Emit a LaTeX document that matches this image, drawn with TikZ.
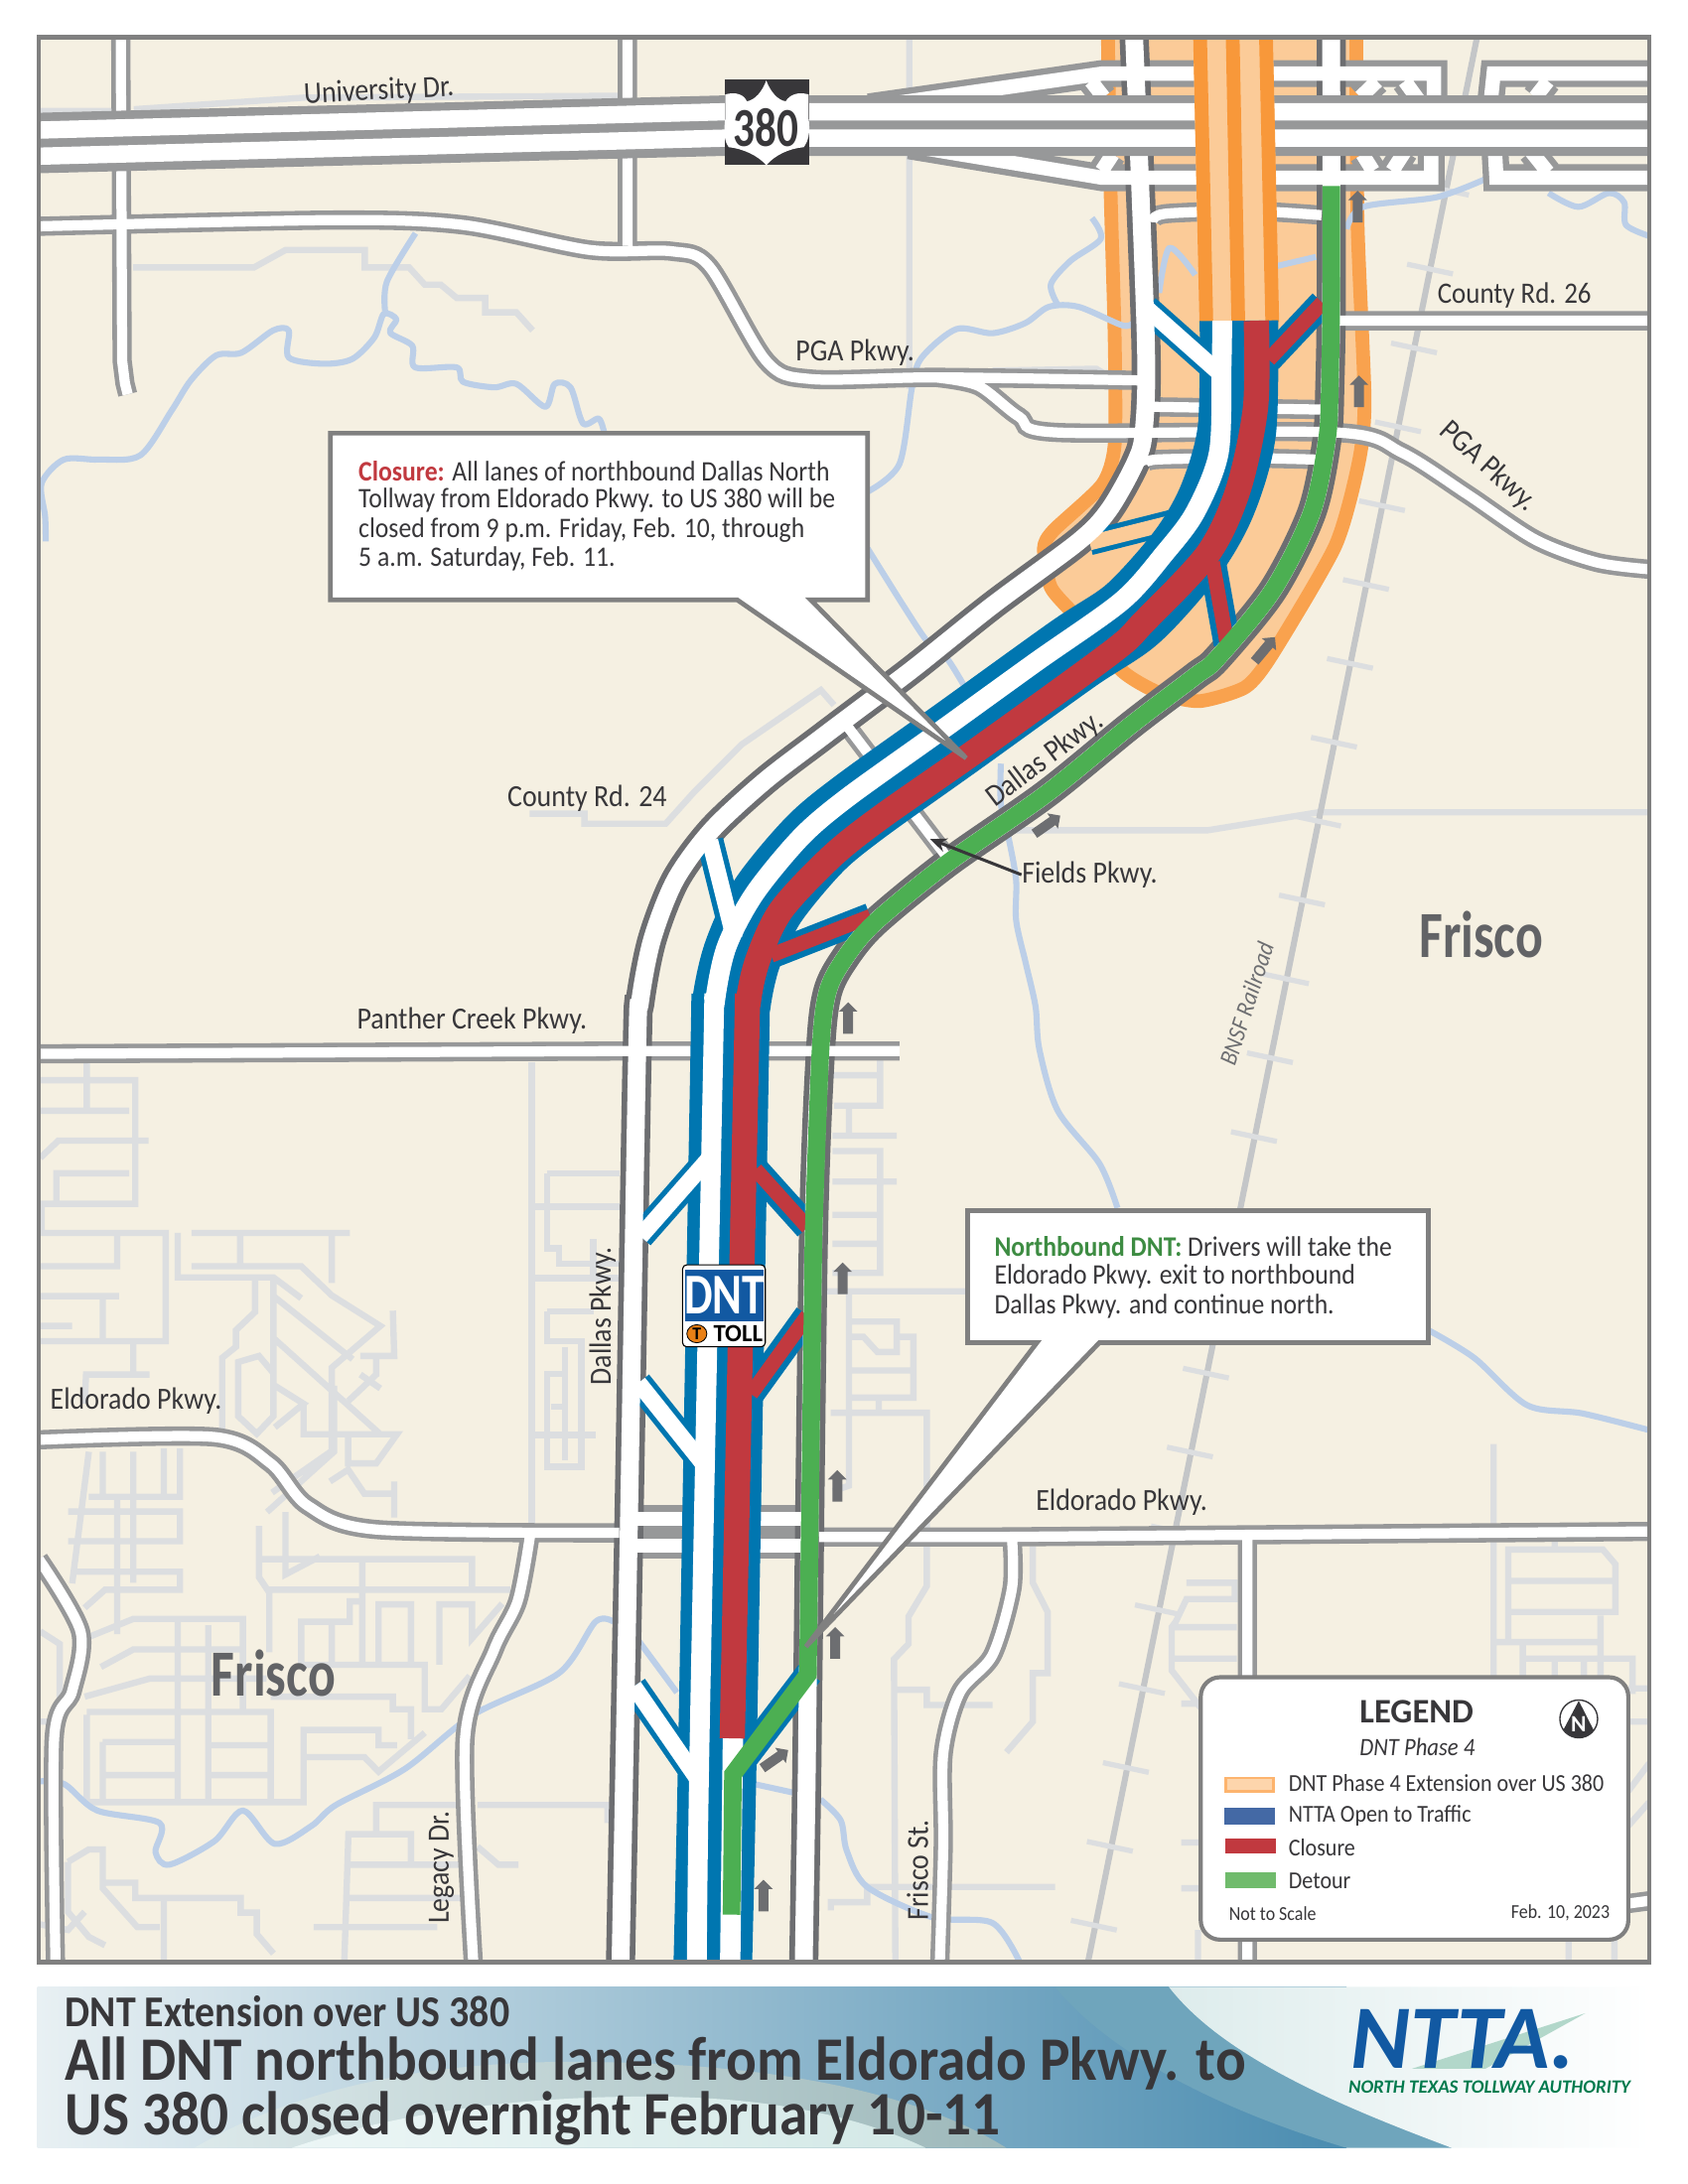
\documentclass[tikz,border=0pt]{standalone}
\usepackage{fontspec}
\setmainfont{Carlito}
\newfontfamily\mapfont[FakeStretch=0.9]{Carlito}
\newfontfamily\bigfont[FakeStretch=0.78]{Carlito}
\newfontfamily\headfont[FakeStretch=0.92]{Carlito}
\usetikzlibrary{calc,positioning,arrows.meta,shapes.arrows}
\definecolor{landcream}{HTML}{F5F0E2}
\definecolor{framegray}{HTML}{808080}
\definecolor{roadgray}{HTML}{979899}
\definecolor{tollgray}{HTML}{6D6E71}
\definecolor{streetgray}{HTML}{DCDEE0}
\definecolor{railgray}{HTML}{C4C6C8}
\definecolor{riverblue}{HTML}{BCCFE8}
\definecolor{lanedblue}{HTML}{0076B0}
\definecolor{closedred}{HTML}{C1393F}
\definecolor{detourgreen}{HTML}{4CAF52}
\definecolor{phaseorange}{HTML}{F8983A}
\definecolor{phasepeach}{HTML}{FBCB98}
\definecolor{textdark}{HTML}{38373A}
\definecolor{nttablue}{HTML}{1259A2}
\definecolor{nttagreen}{HTML}{007A4D}
\definecolor{legendorange}{HTML}{FDB46E}
\definecolor{legendpeach}{HTML}{FDD5AC}
\definecolor{legendblue}{HTML}{4469A5}
\definecolor{legendgreen}{HTML}{70BB6C}
\definecolor{bannerpale}{HTML}{E8F0F3}
\definecolor{bannermid}{HTML}{A3BED0}
\definecolor{bannerdeep}{HTML}{4A8CB0}
\definecolor{arcpale}{HTML}{DCE9EA}
\definecolor{arcdeep}{HTML}{9DB8BA}
\definecolor{innerpale}{HTML}{ECF6F6}
\definecolor{innerdeep}{HTML}{D3E8E6}
\definecolor{bannerteal}{HTML}{6FA5BC}
\definecolor{swooshpale}{HTML}{DDECEC}
\tikzset{
	street/.style={draw=streetgray, line width=2.3pt, line join=miter},
	rail/.style={draw=railgray, line width=2.2pt},
	river/.style={draw=riverblue, line width=2.2pt, line join=round},
	minorcase/.style={draw=roadgray, line width=7pt},
	minorfill/.style={draw=white, line width=3.7pt},
	frontcase/.style={draw=roadgray, line width=9.8pt},
	frontfill/.style={draw=white, line width=5.2pt},
	tollcase/.style={draw=tollgray, line width=10.6pt},
	tollfill/.style={draw=white, line width=6.5pt},
	rampcase/.style={draw=lanedblue, line width=9.8pt},
	rampfill/.style={draw=white, line width=6pt},
	redramp/.style={draw=closedred, line width=5.4pt},
	flowarrow/.style={shape=single arrow, fill=tollgray, inner sep=0pt, inner ysep=1.6pt, minimum height=11.5pt, single arrow head extend=1.6pt, single arrow tip angle=90},
	callout/.style={draw=framegray, fill=white, line width=1.7pt, line join=miter},
	roadlabel/.style={text=textdark, inner sep=0pt, font=\mapfont\fontsize{11.2}{13}\selectfont},
	noteline/.style={text=textdark, inner sep=0pt, anchor=west, font=\mapfont\fontsize{10.3}{12}\selectfont},
	bigtown/.style={text=tollgray!90!black, inner sep=0pt, font=\bigfont\bfseries\fontsize{24}{28}\selectfont},
	legendline/.style={text=textdark, inner sep=0pt, anchor=west, font=\mapfont\fontsize{8.85}{10}\selectfont},
	legendsmall/.style={text=textdark, inner sep=0pt, font=\mapfont\fontsize{7.2}{8}\selectfont},
	titleline/.style={text=textdark, inner sep=0pt, anchor=west, font=\headfont\bfseries\fontsize{22.5}{24}\selectfont},
}
% road centre lines, used for the casing and again for the white fill
\def\minorroads{
	(87,27) -- (88,260) -- (90,276) -- (92,284)
	(452,27) -- (452,177)
	plot[smooth,tension=.5] coordinates {(28,163) (242,158.5) (333.5,162) (424.7,180) (484,181) (511,192) (552,260) (584,273) (675.5,271.8) (822,274)}
	plot[smooth,tension=.5] coordinates {(675.5,272) (705,278) (734,300) (762,311.5) (963,311.5) (1010,326) (1057,356) (1106,388.7) (1150,405) (1188,410)}
	(960,231) -- (1188,231)
	(28,759) -- (449,757) -- (648,757)
	plot[smooth,tension=.5] coordinates {(28,1037) (154.5,1035) (195,1054) (221.6,1084.4) (271,1101.6) (446,1104)}
	(590,1107) -- (715,1107) -- (1188,1103)
	plot[smooth,tension=.5] coordinates {(382,1105) (373,1153) (356,1188) (335,1252.5) (341,1414)}
	plot[smooth,tension=.5] coordinates {(28,1123) (58,1175) (52,1218) (39,1252) (40,1414)}
	plot[smooth,tension=.5] coordinates {(729,1108) (729,1144) (715,1192) (691.4,1219) (679.5,1263) (679.5,1329) (677,1414)}
	(898.6,1104) -- (898.6,1414)
	(1173,1371) -- (1188,1369)
	(605,516) -- (685,621)
	plot[smooth,tension=.5] coordinates {(830,160) (839,154) (900,152) (952,155)}
	(831,293) -- (952,295)
	plot[smooth,tension=.5] coordinates {(825,335) (833,331) (900,330) (948,331)}
}
\def\frontroads{
	(626,77) -- (794,53) -- (1033,53) -- (1033,72)
	(655,105) -- (794,128) -- (1031,128) -- (1031,110)
	(1188,53) -- (1076,53) -- (1074,72)
	(1188,128) -- (1078,128) -- (1077,110)
	(786,58.5) -- (795,70) (801.6,111) -- (793.7,123)
	(980,70) -- (992,58.5) (1012,58.5) -- (1024,75)
	(981.5,111) -- (989,123) (1012,109) -- (1003,123)
	(1106,70) -- (1115,58.5) (1103,109) -- (1115,124)
}
\def\westfront{plot[smooth,tension=.5] coordinates {(447,1414) (453,1100) (459,758) (461,722) (469.7,677) (486.4,634) (512.6,598) (550.8,562.6) (591.3,531.6) (620,510) (658,481.5) (715,436) (777,390) (799,367) (818,333) (824,310) (825.4,244) (817,27)}}
\def\eastupper{(586,890) (591,758) (596,715) (608,691) (629.5,665) (682,622) (753.4,572) (815,522) (861,487) (877,474) (917,425) (945,369) (956,316) (958,277) (959,211)}
\def\eastfront{plot[smooth,tension=.5] coordinates {(579,1414) (581,1290) (582,1206) \eastupper (959,27)}}
\def\whiteramps{(826,222) -- (880,270) (461.4,890.5) -- (512,833) (460,996) -- (508,1056) (456.6,1214.6) -- (503,1282) (511.4,605.5) -- (529,676)}
\def\redramps{(914,259) -- (952.6,218) (873.5,405) -- (884,464) (544.3,842.3) -- (581.8,884) (541,1004) -- (581.8,947.4) (555.5,688) -- (627,660)}
\begin{document}
\begin{tikzpicture}[x=0.50518pt, y=-0.50539pt]
	\useasboundingbox (0,0) rectangle (1216,1573);
	\begin{scope}
		\clip (28,27) rectangle (1188,1413);
		\fill[landcream] (28,27) rectangle (1188,1413);
		% neighbourhood streets
		\draw[street] (655,27) -- (655,280) (96,192.6) -- (183,192.6) -- (205.8,180) -- (262.8,180) -- (262.8,192.6) -- (294.7,192.6) -- (306,205) -- (317.5,205) -- (329,214.6) -- (349.5,214.6) -- (349.5,225) -- (372,225) -- (383.7,238)
			(28,80) -- (82,80) (96.4,78.7) -- (219.5,70.3) -- (447.5,69)
			(381.5,586) -- (421,586) -- (421,593.3) -- (479.5,593.3) -- (500.7,569.7) -- (534,536.4) -- (591.3,497) -- (600.8,507.8)
			(729.6,598) -- (870,598) -- (950,585) -- (1188,585)
			(715,267) -- (789.7,265.6) -- (817.7,283);
		\draw[street] (62.5,765) -- (62.5,800) (29,778) -- (97.5,778) -- (97.5,867) -- (29,867) (29,800) -- (93,800) (29,834) -- (42,821.5) -- (107,821.5) (40.6,867) -- (40.6,845) -- (93,845)
			(30,867) -- (30,888) -- (119.4,888) -- (119.4,966) -- (29,966) (29,912) -- (84.4,912) -- (84.4,888) (29,933.5) -- (85.8,933.5) (74,933.5) -- (74,966) (29,955) -- (52,955) (96,966) -- (96,988) (61,1011) -- (62,990) -- (107.7,990)
			(138,888) -- (252,888) (173,888) -- (173,912) (239,888) -- (239,924) (138,912) -- (217,912) -- (239,933) -- (274,955) -- (239,985) -- (239,1045) -- (196,1075) (128,888) -- (128,920) -- (197,920) -- (217,935)
			(197,933.5) -- (254,979) (197,963.7) -- (274,1033) (183.7,920) -- (183.7,945) -- (170,958) -- (170,970) -- (160,978) -- (160,1030)
			(171.6,981) -- (186.6,976.6) -- (197,989) -- (197,1020) -- (185,1032.6) -- (171.6,1020) -- cycle (197,920) -- (197,989)
			(283,944) -- (284,976.6) -- (259.6,976.6) (271,977) -- (271,990) -- (251,1009) (259.6,990) -- (274,1000)
			(240.6,998) -- (240.6,1045.6) -- (192.4,1089) (198,998) -- (218.7,1011) -- (198,1028) (218.7,1011) -- (218.7,1033) -- (250.8,1033) -- (250.8,1054) -- (271,1054) -- (286,1033) -- (242,1033)
			(284,1067) -- (284,1093) (237.7,1067) -- (250.8,1058.5) -- (262.5,1075.8) -- (284,1075.8);
		\draw[street] (64,1045.6) -- (52,1140.4) (74,1045.6) -- (74,1076) (96,1045.6) -- (96,1140) (118,1043) -- (118,1076) (129.6,1043) -- (129.6,1078) -- (64,1078)
			(49,1088.7) -- (129.6,1088.7) -- (129.6,1110) -- (49,1110) (52,1132) -- (129.6,1132) -- (129.6,1145) -- (96,1145) (84.4,1080) -- (84.4,1177) (61,1158) -- (75.6,1145) -- (96,1145)
			(64,1179) -- (96,1166) -- (175,1166) -- (175,1231) (128,1166) -- (128,1298) (150,1170.6) -- (150,1298) (72.7,1200.6) -- (96,1188) -- (175,1188) (61,1222) -- (107.7,1209) -- (192,1209)
			(62.5,1235) -- (62.5,1298) -- (218.7,1298) -- (218.7,1246) -- (272.7,1246) -- (272.7,1257) -- (286,1257) (62.5,1233) -- (195,1233) -- (195,1298)
			(74,1254.6) -- (126.7,1254.6) (74,1254.6) -- (74,1298) (74,1278.5) -- (126.7,1278.5) (151.5,1257) -- (194,1257) (151.5,1278.5) -- (194,1278.5)
			(218.7,1265.5) -- (262.5,1265.5) -- (272.7,1276) -- (306,1248)
			(192.4,1145) -- (367.6,1145) (194,1145) -- (194,1190) (186.6,1099) -- (186.6,1136) -- (194,1147) (186.6,1123) -- (340,1123) -- (340,1143)
			(205.6,1089) -- (205.6,1134) -- (230.4,1121) (261,1123) -- (261,1199) (217,1199) -- (217,1168) -- (252,1168) -- (252,1153.4) -- (262.5,1153.4)
			(272.7,1199) -- (272.7,1155.5) -- (296,1155.5) -- (296,1199) (316.5,1199) -- (316.5,1155.5) -- (340,1155.5) -- (340,1180) -- (361.8,1155) (239,1168) -- (239,1199)
			(218.7,1199) -- (306,1199) -- (306,1231) -- (318,1231) -- (338.4,1207) (296,1252.5) -- (296,1231) -- (283,1231) -- (283,1222) -- (195,1222)
			(248,1414) -- (251,1321) -- (296,1321) -- (296,1343) (271,1321) -- (271,1300) -- (330,1300) (251,1343) -- (335,1343) (251,1367) -- (335,1367) (226,1388) -- (315,1388)
			(344,1300) -- (437.7,1300) -- (437.7,1313) (344,1330) -- (359,1343) -- (373.5,1343)
			(49,1341) -- (64,1332) -- (74,1332) -- (74,1360) -- (99,1388) -- (115,1388) (49,1341) -- (49,1377) -- (64,1395) -- (75.6,1401)
			(74,1356) -- (97.5,1356) -- (97.5,1367) -- (173.4,1367) -- (173.4,1377.5) -- (185,1377.5) -- (185,1393) -- (197,1407) (118,1367) -- (118,1414) (29,1386) -- (49,1390) -- (61,1377) (29,1175) -- (43,1184) -- (43,1240) -- (29,1240);
		\draw[street] (383,765) -- (383,1100) (394,845) -- (446.5,845) (383.7,869) -- (446.5,869) (394,845) -- (394,899) -- (402.7,899) -- (402.7,910) -- (446,910) (383.7,920.6) -- (446.5,920.6) (427.5,892.6) -- (427.5,920.6)
			(394,944.3) -- (428,944.3) (394,944.3) -- (394,966) -- (418.7,966) -- (418.7,1056.4) -- (394,1056.4) -- (394,989.6) -- (408.5,989.6) (407,970) -- (407,1052) (385,1033.5) -- (429,1033.5) (396.8,1013) -- (407,1013);
		\draw[street] (600,774.4) -- (634,774.4) (634,763.5) -- (634,796.3) -- (600.9,796.3) (611.6,796) -- (611.6,818.2) (599.7,818) -- (646,818) (599.7,829) -- (634,829) -- (634,916.8) -- (599.7,916.8) (599.7,851) -- (646,851) (599.7,875) -- (632,875) (599.7,895.8) -- (632,895.8)
			(596,930) -- (696,930) (611.6,930) -- (611.6,1070) -- (600,1074) (614,951.8) -- (646,951.8) -- (646,973.7) -- (632,973.7) -- (622,962.8) -- (614,962.8) (646,962.8) -- (658,962.8) -- (658,1006.6) -- (611.6,1006.6) (614,987) -- (658,987) (633,1006.6) -- (633,1017.5)
			(598.5,1017.5) -- (667.6,1017.5) -- (667.6,1142.4) -- (654.5,1164.3) -- (654.5,1184) -- (644,1195) -- (645,1414) (645,1217) -- (667.6,1217) -- (667.6,1228) -- (715,1228)
			(598.5,1376) -- (598.5,1370) -- (624.7,1370) -- (624.7,1359) -- (760,1359);
		\draw[street] (744,1113.5) -- (744,1140) -- (754.7,1161) -- (754.7,1205) -- (744,1205) -- (744,1240) -- (725,1262)
			(854.7,1140) -- (889.5,1140) -- (889.5,1151.7) -- (854.7,1151.7) -- (847,1168) -- (844,1172) -- (844,1203) -- (865,1230) (844,1172) -- (891,1172) (844,1194.6) -- (891,1194.6) (851,1227) -- (870,1227) (851,1327) -- (870,1327) (851,1360) -- (870,1360) (863,1390) -- (863,1414)
			(1076,1040) -- (1076,1216) (1086.5,1116) -- (1154.7,1116) -- (1163.7,1126.6) -- (1163.7,1161) -- (1086.5,1161) -- cycle (1086.5,1138.6) -- (1163.7,1138.6) (1120,1109) -- (1120,1116) (1086.5,1161) -- (1086.5,1182.7) (1153,1163.6) -- (1153,1216) (1076,1182.7) -- (1153,1182.7)
			(1097,1185) -- (1097,1216) (1097,1194.6) -- (1176,1194.6) -- (1176,1220) (1120,1194.6) -- (1120,1216) (1141,1194.6) -- (1141,1216)
			(1173,1216) -- (1188,1216) (1173,1240) -- (1188,1240) (1173,1290) -- (1188,1270) (1173,1315) -- (1188,1298) (1130,1395) -- (1130,1414) (1163,1395) -- (1163,1414);
		% railroad and its ties
		\draw[rail] (1064,27) -- (783.6,1414);
		\foreach \tie in {0,...,22}
			\draw[streetgray, line width=1.9pt] ({1064-0.203*(137+56.8*\tie-27)-16.5},{137+56.8*\tie-3.5}) -- ++(33,7);
		% phase 4 area
		\draw[fill=phasepeach, draw=phaseorange!90!white, line width=5pt, line join=round] plot[smooth,tension=.4] coordinates {(798,20) (800,136) (803,244) (803,320) (794,349) (759,382) (752,395) (757,423) (775,444) (808,483) (835,499) (864,505) (897,495) (916,472) (962,393) (979,332) (983,287) (978,162) (977,20)} -- cycle;
		% creeks
		\draw[river] plot[smooth,tension=.5] coordinates {(33,390) (32.5,372) (30,348) (46,331) (71,331) (101,328) (123.7,295.6) (137.4,274) (155.7,256) (174,254) (196.7,238) (208,238) (208,257.5) (233,262) (253.7,258.6) (269.7,243) (276.5,226) (285.6,230) (281,239.6) (297,249) (299,264.6) (329,264.6) (333.5,275) (356,279) (372,276.5) (392.8,293) (399.6,276.5) (411,279) (420,305) (431.5,301.6) (436,315)};
		\draw[river] plot[smooth,tension=.5] coordinates {(299.3,168) (278.8,202.6) (277.4,224)};
		\draw[river] plot[smooth,tension=.5] coordinates {(625.3,354) (648,334) (657,279) (664,257.5) (689,237) (715,240) (738.6,232.7) (755.6,221) (777,221) (808.4,234.3) (816,232.7)};
		\draw[river] plot[smooth,tension=.5] coordinates {(762,219.6) (757,204.8) (771,188) (793,172) (786.6,157)};
		\draw[river] plot[smooth,tension=.5] coordinates {(835,211) (842.5,178.5) (861,198)} (920,191.6) -- (948,185);
		\draw[river] plot[smooth,tension=.5] coordinates {(970,165) (982,149) (1035,142) (1070,129)};
		\draw[river] plot[smooth,tension=.5] coordinates {(1115.5,139) (1137,149) (1159,139) (1170,145.7) (1171.3,162) (1188,170)};
		\draw[river] plot[smooth,tension=.5] coordinates {(625,395) (650,435) (668,462) (682,474) (694,493)};
		\draw[river] plot[smooth,tension=.5] coordinates {(721,550) (721,579) (727,605.5) (732,634) (732,663) (739,694) (746,725) (748.7,755.7) (762,800) (792,838) (805,870)};
		\draw[river] plot[smooth,tension=.5] coordinates {(1029,958) (1062,978) (1100,1012) (1140,1018) (1188,1030)};
		\draw[river] plot[smooth,tension=.5] coordinates {(442,1168) (429,1168) (402.7,1205) (341,1235) (291.7,1274) (242,1300) (224.5,1315) (198,1328) (175,1304) (154.5,1326) (122,1343) (112,1334) (115,1313) (70,1304) (46.4,1285) (28,1283)};
		\draw[river] (458,1179) -- (487.6,1219) (543.6,1285) -- (571,1291);
		\draw[river] plot[smooth,tension=.5] coordinates {(591,1296) (605.6,1311) (610,1333) (624.7,1359) (672,1381) (715,1385) (735,1414)};
		% roads
		\draw[roadgray, line width=19.6pt] (450,1103) -- (587,1103);
		\draw[minorcase] \minorroads;
		\draw[frontcase] \frontroads;
		\draw[tollcase] \westfront;
		\draw[tollcase] \eastfront;
		\draw[minorfill] \minorroads;
		\draw[frontfill] \frontroads;
		\draw[white, line width=5pt] (450,1094) -- (587,1094) (450,1113) -- (587,1113);
		\draw[rampcase] \whiteramps;
		\draw[rampcase] \redramps;
		\draw[rampcase] (532,1272) -- (583,1205);
		\draw[rampcase, line width=9pt] (785,391) -- (850,374.5);
		\draw[draw=phasepeach, line width=5.4pt] (785,391) -- (845,376);
		\draw[tollfill] \westfront;
		\draw[tollfill] \eastfront;
		% US 380 main lanes
		\draw[draw=roadgray, line width=22pt] (28,103) -- (522,90.5) -- (1188,90.5);
		\draw[draw=white, line width=6.3pt] (28,93.7) -- (522,80.5) -- (1188,80.5) (28,112.5) -- (522,99.5) -- (1188,99.5);
		% extension over US 380
		\fill[phasepeach] (864,232) -- (921,232) -- (917,27) -- (859.5,27) -- cycle;
		\draw[phaseorange, line width=5pt] (869,232) -- (864.5,27) (892,232) -- (888,27) (916.5,232) -- (912,27);
		% toll road lanes
		\draw[draw=lanedblue, line width=28.6pt] plot[smooth,tension=.5] coordinates {(513.5,1414) (517,1252) (525.7,758) (527,722) (535,687) (553,649) (587,608) (621,580) (691,530) (773,471) (816,442) (855,398.5) (877,360) (891,310) (892.5,231)};
		\draw[draw=white, line width=7.2pt] plot[smooth,tension=.5] coordinates {(502,1414) (504,1252) (513.8,758) (515,722) (523.4,682) (543.6,643.6) (577,603) (610.4,574.5) (677,526.8) (746,477) (808,433) (839,398.5) (861,369) (878,326) (880,264) (880.5,231)};
		\draw[draw=white, line width=7.4pt] (526,1414) -- (528,1250);
		\draw[rampfill] \whiteramps;
		\draw[redramp] \redramps;
		\draw[draw=closedred, line width=9.2pt] plot[smooth,tension=.5] coordinates {(527.5,1252) (537.7,758) (539,722) (546,691) (562.7,655.6) (598.5,617.4) (634,589) (705.7,538.8) (801,469.6) (824,448) (870.4,398.5) (892,352.5) (904.5,293) (905,231)};
		\draw[draw=detourgreen, line width=6.4pt] (527,1379) -- (528,1278) -- (582,1206) -- plot[smooth,tension=.5] coordinates {\eastupper (959,134)};
		% traffic direction
		\foreach \ax/\ay/\arot [count=\an] in {978/150.6/90, 979/283.6/90, 910/469/50, 753/595/35, 611/735/90, 607/922.5/90, 603.2/1072/90, 601.6/1185/90, 557/1268/35, 550/1367/90}
			\node[flowarrow, rotate=\arot] (flow\an) at (\ax,\ay) {};
	\end{scope}
	\draw[framegray, line width=1.7pt] (28,27) rectangle (1188,1413);
	% callouts
	\draw[callout] (238,312) -- (625,312) -- (625,432) -- (584,432) -- (696,546) -- (531,432) -- (238,432) -- cycle;
	\node[noteline] (closure1) at (258,339.5) {\textcolor{closedred}{\bfseries Closure:} All lanes of northbound Dallas North};
	\node[noteline] (closure2) at (258,360.5) {Tollway from Eldorado Pkwy. to US 380 will be};
	\node[noteline] (closure3) at (258,381.5) {closed from 9 p.m. Friday, Feb. 10, through};
	\node[noteline] (closure4) at (258,402.5) {5 a.m. Saturday, Feb. 11.};
	\draw[callout] (697,872) -- (1029,872) -- (1029,967) -- (792,967) -- (580.6,1186) -- (747,967) -- (697,967) -- cycle;
	\node[noteline] (detour1) at (716,898) {\textcolor{detourgreen!80!black}{\bfseries Northbound DNT:} Drivers will take the};
	\node[noteline] (detour2) at (716,919.5) {Eldorado Pkwy. exit to northbound};
	\node[noteline] (detour3) at (716,941) {Dallas Pkwy. and continue north.};
	% road names
	\node[roadlabel, rotate=3] (university) at (273,66) {University Dr.};
	\node[roadlabel] (pgaWest) at (616,254) {PGA Pkwy.};
	\node[roadlabel, font=\mapfont\fontsize{10.8}{13}\selectfont] (county26) at (1091,213) {County Rd. 26};
	\node[roadlabel, rotate=-42] (pgaEast) at (1072,336) {PGA Pkwy.};
	\node[roadlabel] (county24) at (423,575) {County Rd. 24};
	\node[roadlabel, rotate=37] (dallasEast) at (753,547) {Dallas Pkwy.};
	\node[roadlabel] (fields) at (785,630) {Fields Pkwy.};
	\coordinate (fieldsTip) at (670,604.3);
	\draw[-{Stealth[length=6pt,width=5pt]}, textdark, line width=1.1pt] (fields.west) -- (fieldsTip);
	\node[roadlabel] (panther) at (340,735) {Panther Creek Pkwy.};
	\node[roadlabel, rotate=72, text=tollgray, font=\mapfont\itshape\fontsize{9}{11}\selectfont] (bnsf) at (898,723) {BNSF Railroad};
	\node[roadlabel, rotate=90] (dallasWest) at (434,948) {Dallas Pkwy.};
	\node[roadlabel] (eldoradoWest) at (98,1009) {Eldorado Pkwy.};
	\node[roadlabel] (eldoradoEast) at (808,1082) {Eldorado Pkwy.};
	\node[roadlabel, rotate=90] (legacy) at (318,1345) {Legacy Dr.};
	\node[roadlabel, rotate=90] (friscoSt) at (661,1347) {Frisco St.};
	\node[bigtown] (friscoEast) at (1067,673) {Frisco};
	\node[bigtown] (friscoWest) at (197,1205) {Frisco};
	% US 380 shield
	\fill[textdark] (522,57) rectangle (583,119);
	\fill[white] (522.5,68) .. controls (530,66) and (536,68) .. (538,73) .. controls (544,72) and (549,66) .. (552,58) .. controls (555,66) and (560,72) .. (566,73) .. controls (569,68) and (575,66) .. (582.5,68) -- (582.5,85) .. controls (584,96) and (582,102) .. (579,106) .. controls (568,107) and (558,112) .. (552,119) .. controls (546,112) and (535,107) .. (525,106) .. controls (522,102) and (521,96) .. (522.5,85) -- cycle;
	\node[text=textdark, inner sep=0pt, font=\bigfont\bfseries\fontsize{20}{22}\selectfont] (shield380) at (552,92) {380};
	% DNT sign
	\draw[black, fill=white, line width=.4pt, rounded corners=1.5pt] (491.7,911) rectangle (551.3,970);
	\fill[nttablue] (493.6,914.6) rectangle (550.3,951.8);
	\node[text=white, inner sep=0pt, font=\bigfont\bfseries\fontsize{21}{23}\selectfont] (signDnt) at (522,933) {DNT};
	\draw[black, fill=orange!65!brown, line width=.3pt] (502,960.6) ellipse (7.2 and 6.5);
	\node[text=black, inner sep=0pt, font=\bfseries\fontsize{6.5}{7}\selectfont] (signT) at (502,960.6) {T};
	\node[text=black, inner sep=0pt, font=\bfseries\fontsize{9}{10}\selectfont] (signToll) at (531.7,960.6) {TOLL};
	% legend
	\draw[fill=white, draw=framegray, line width=1.5pt, rounded corners=7pt] (865,1208) rectangle (1173,1397);
	\node[text=textdark, inner sep=0pt, font=\bfseries\fontsize{12.5}{14}\selectfont] (legendTitle) at (1020.5,1232.7) {LEGEND};
	\node[text=textdark, inner sep=0pt, font=\mapfont\itshape\fontsize{9.1}{11}\selectfont] (legendSub) at (1021,1258.5) {DNT Phase 4};
	\draw[draw=legendorange, fill=legendpeach, line width=1pt] (883,1280.5) rectangle (917.5,1290);
	\fill[legendblue] (882,1302) rectangle (918.4,1314);
	\fill[closedred] (882.5,1324) rectangle (919,1335);
	\fill[legendgreen] (882.5,1348.4) rectangle (919,1359.6);
	\node[legendline] (legendPhase) at (928,1284) {DNT Phase 4 Extension over US 380};
	\node[legendline] (legendOpen) at (928,1307.4) {NTTA Open to Traffic};
	\node[legendline] (legendClosure) at (928,1331) {Closure};
	\node[legendline] (legendDetour) at (928,1355) {Detour};
	\node[legendsmall, anchor=west] (legendScale) at (885,1378) {Not to Scale};
	\node[legendsmall, anchor=east] (legendDate) at (1160,1378) {Feb. 10, 2023};
	\begin{scope}
		\clip (1137.3,1238) circle (13.6);
		\fill[textdark] (1137.3,1225) -- (1151,1252) -- (1123,1252) -- cycle;
	\end{scope}
	\draw[textdark, line width=.5pt] (1137.3,1238) circle (13.6);
	\node[text=white, inner sep=0pt, font=\bfseries\fontsize{8.5}{9}\selectfont] (northN) at (1137.3,1242) {N};
	% title banner
	\begin{scope}
		\clip (27,1431) rectangle (1190,1547);
		\shade[left color=bannerpale, middle color=bannermid, right color=bannerdeep] (27,1431) rectangle (970,1547);
		\shade[left color=arcpale, right color=arcdeep] (140,1547) .. controls (220,1500) and (320,1485) .. (411,1485) .. controls (530,1485) and (650,1500) .. (725,1547) -- cycle;
		\shade[left color=innerpale, right color=innerdeep] (210,1547) .. controls (290,1520) and (380,1510) .. (466,1510) .. controls (540,1510) and (610,1520) .. (667,1547) -- cycle;
		\fill[bannerteal] (760,1431) .. controls (800,1480) and (880,1520) .. (970,1547) -- (1046,1547) .. controls (960,1510) and (890,1470) .. (842,1431) -- cycle;
		\shade[left color=swooshpale, right color=white] (842,1431) .. controls (880,1480) and (960,1515) .. (1046,1547) -- (1190,1547) -- (1190,1431) -- cycle;
	\end{scope}
	\node[titleline, font=\mapfont\bfseries\fontsize{16}{18}\selectfont] (bannerSub) at (46.6,1449) {DNT Extension over US 380};
	\node[titleline] (bannerTop) at (46.6,1486) {All DNT northbound lanes from Eldorado Pkwy. to};
	\node[titleline] (bannerBottom) at (46.6,1526) {US 380 closed overnight February 10-11};
	\fill[nttagreen!30!white] (1142,1450) -- (1017,1490) -- (1070,1490) -- cycle;
	\node[text=nttablue, inner sep=0pt, font=\bfseries\itshape\fontsize{33}{35}\selectfont] (logoNtta) at (1054,1469) {NTTA.};
	\node[text=nttagreen, inner sep=0pt, font=\bfseries\itshape\fontsize{6.85}{8}\selectfont] (logoName) at (1073,1503.5) {NORTH TEXAS TOLLWAY AUTHORITY};
\end{tikzpicture}
\end{document}
